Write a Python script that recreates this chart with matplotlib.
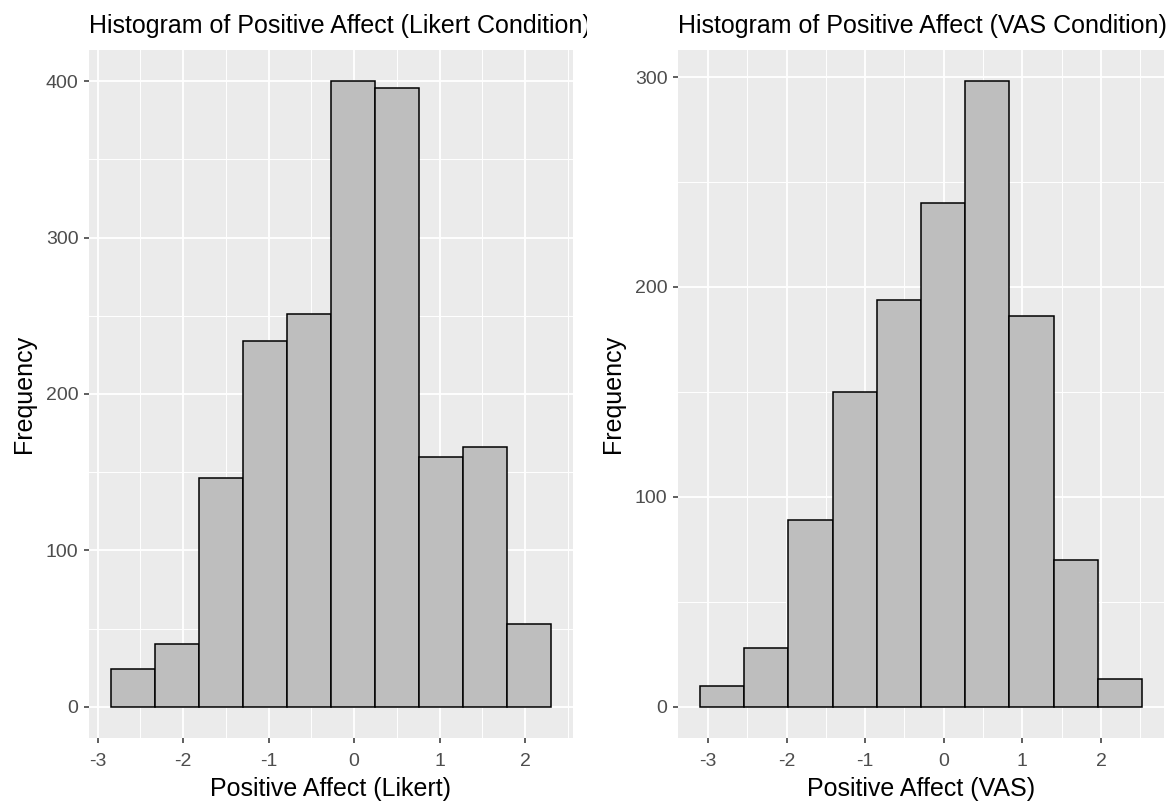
import matplotlib
matplotlib.use("Agg")
import matplotlib.pyplot as plt
import numpy as np
from matplotlib.transforms import Bbox, TransformedBbox

plt.rcParams["font.family"] = ["Liberation Sans", "DejaVu Sans"]
plt.rcParams["axes.unicode_minus"] = False

# bin counts (10 bins each)
likert_counts = [24, 40, 146, 234, 251, 400, 396, 160, 166, 53]
likert_range = (-2.843, 2.304)
vas_counts = [10, 28, 89, 150, 194, 240, 298, 186, 70, 13]
vas_range = (-3.10, 2.52)

titles = ["Histogram of Positive Affect (Likert Condition)",
          "Histogram of Positive Affect (VAS Condition)"]
xlabels = ["Positive Affect (Likert)", "Positive Affect (VAS)"]
x_ticks = [-3, -2, -1, 0, 1, 2]
y_ticks = [[0, 100, 200, 300, 400], [0, 100, 200, 300]]

W, H = 1174, 806
fig = plt.figure(figsize=(W / 100, H / 100), dpi=100)
fig.patch.set_facecolor("white")

# panel boxes in pixels (left, right, top, bottom)
panels = [(89, 573, 50, 738), (678, 1164, 50, 738)]
clips = [(0, 587), (587, W)]

for i, (counts, rng) in enumerate([(likert_counts, likert_range), (vas_counts, vas_range)]):
    l, r, t, b = panels[i]
    ax = fig.add_axes([l / W, (H - b) / H, (r - l) / W, (b - t) / H])
    ax.set_facecolor("#EBEBEB")
    for s in ax.spines.values():
        s.set_visible(False)

    edges = np.linspace(rng[0], rng[1], len(counts) + 1)
    ax.hist(edges[:-1], bins=edges, weights=counts, color="#BEBEBE",
            edgecolor="black", linewidth=1.1, zorder=3)

    span = rng[1] - rng[0]
    ax.set_xlim(rng[0] - 0.05 * span, rng[1] + 0.05 * span)
    ymax = max(counts)
    ax.set_ylim(-0.05 * ymax, 1.05 * ymax)

    ax.set_xticks(x_ticks)
    ax.set_yticks(y_ticks[i])
    ax.set_xticks([v + 0.5 for v in x_ticks], minor=True)
    ax.set_yticks([v + 50 for v in y_ticks[i][:-1]], minor=True)

    ax.grid(which="major", color="white", linewidth=1.3, zorder=0)
    ax.grid(which="minor", color="white", linewidth=0.7, zorder=0)
    ax.set_axisbelow(True)

    ax.tick_params(which="major", length=3.6, width=1.1, color="#333333",
                   labelsize=14, labelcolor="#4D4D4D")
    ax.tick_params(axis="x", which="major", pad=7)
    ax.tick_params(axis="y", which="major", pad=4)
    ax.tick_params(which="minor", length=0)

    ax.set_xlabel(xlabels[i], fontsize=18, color="black", labelpad=5)
    ax.set_ylabel("Frequency", fontsize=18, color="black", labelpad=7)

    ttl = fig.text(l / W, (H - 33) / H, titles[i], fontsize=18,
                   color="black", ha="left", va="baseline")
    cb = TransformedBbox(Bbox([[clips[i][0] / W, 0], [clips[i][1] / W, 1]]),
                         fig.transFigure)
    ttl.set_clip_box(cb)
    ttl.set_clip_on(True)

fig.savefig("out.png", dpi=100)
